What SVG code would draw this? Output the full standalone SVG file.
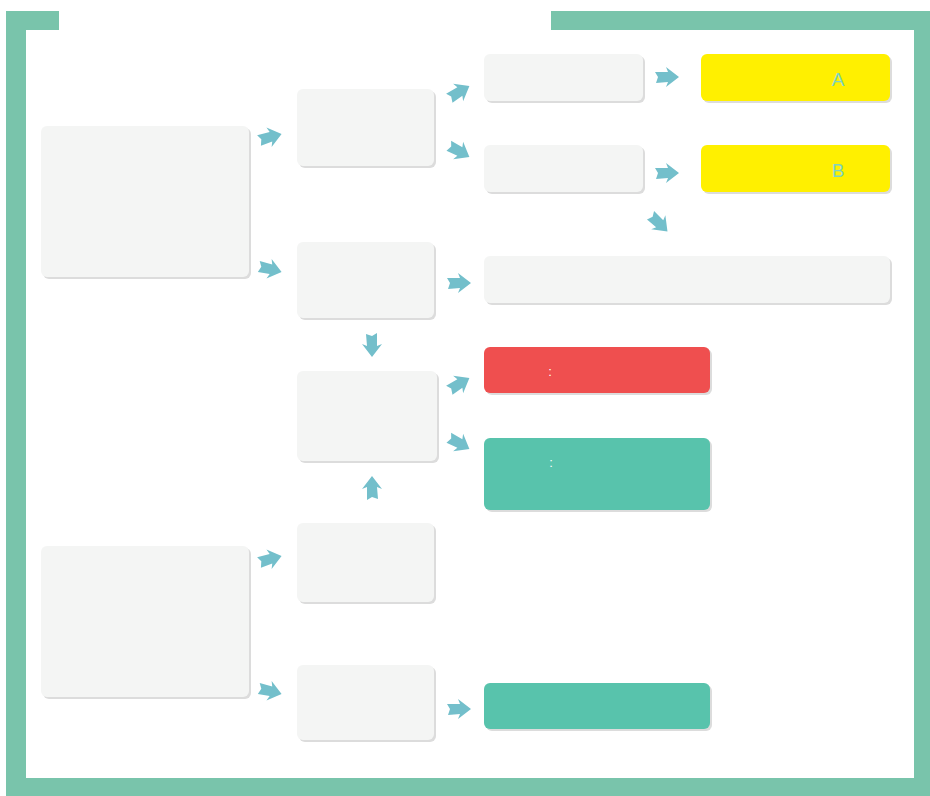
<svg xmlns="http://www.w3.org/2000/svg" width="930" height="796" viewBox="0 0 930 796">
<style>
.box{fill:#F4F5F4}
.sh{fill:#DCDCDC}
.yel{fill:#FFF000}
.red{fill:#EF4F4F}
.tea{fill:#58C3AC}
.arr{fill:#73BFCB}
.frame{fill:#79C4AB}
.lt{font-family:"Liberation Sans",Arial,sans-serif;font-size:19px;fill:#7ED3C0;text-anchor:middle}
.col{font-family:"Liberation Sans",Arial,sans-serif;font-size:13px;fill:#FFFFFF;text-anchor:middle}
</style>
<defs>
<path id="ar" d="M-12,-5 L1,-5 L-1,-10 L12,0 L-1,10 L1,5 L-11,6 L-9,0 Z"/>
</defs>
<rect width="930" height="796" fill="#FFFFFF"/>
<g id="frame">
<path class="frame" d="M6,11 H59 V30 H26 V778 H914 V30 H551 V11 H930 V796 H6 Z"/>
</g>
<g id="n-left1"><rect class="sh" x="43" y="128" width="208" height="151" rx="6"/><rect class="box" x="41" y="126" width="208" height="151" rx="6"/></g>
<g id="n-left2"><rect class="sh" x="43" y="548" width="208" height="151" rx="6"/><rect class="box" x="41" y="546" width="208" height="151" rx="6"/></g>
<g id="n-m1"><rect class="sh" x="299" y="91" width="137" height="77" rx="6"/><rect class="box" x="297" y="89" width="137" height="77" rx="6"/></g>
<g id="n-m2"><rect class="sh" x="299" y="244" width="137" height="76" rx="6"/><rect class="box" x="297" y="242" width="137" height="76" rx="6"/></g>
<g id="n-m3"><rect class="sh" x="299" y="373" width="140" height="90" rx="6"/><rect class="box" x="297" y="371" width="140" height="90" rx="6"/></g>
<g id="n-m4"><rect class="sh" x="299" y="525" width="137" height="79" rx="6"/><rect class="box" x="297" y="523" width="137" height="79" rx="6"/></g>
<g id="n-m5"><rect class="sh" x="299" y="667" width="137" height="75" rx="6"/><rect class="box" x="297" y="665" width="137" height="75" rx="6"/></g>
<g id="n-r1"><rect class="sh" x="486" y="56" width="159" height="47" rx="6"/><rect class="box" x="484" y="54" width="159" height="47" rx="6"/></g>
<g id="n-r2"><rect class="sh" x="486" y="147" width="159" height="47" rx="6"/><rect class="box" x="484" y="145" width="159" height="47" rx="6"/></g>
<g id="n-yA"><rect class="sh" x="703" y="56" width="189" height="47" rx="6"/><rect class="yel" x="701" y="54" width="189" height="47" rx="6"/><text class="lt" x="838" y="86">A</text></g>
<g id="n-yB"><rect class="sh" x="703" y="147" width="189" height="47" rx="6"/><rect class="yel" x="701" y="145" width="189" height="47" rx="6"/><text class="lt" x="838" y="177">B</text></g>
<g id="n-wide"><rect class="sh" x="486" y="258" width="406" height="47" rx="6"/><rect class="box" x="484" y="256" width="406" height="47" rx="6"/></g>
<g id="n-red"><rect class="sh" x="486" y="349" width="226" height="46" rx="6"/><rect class="red" x="484" y="347" width="226" height="46" rx="6"/><text class="col" x="550" y="376">:</text></g>
<g id="n-teal1"><rect class="sh" x="486" y="440" width="226" height="72" rx="6"/><rect class="tea" x="484" y="438" width="226" height="72" rx="6"/><text class="col" x="551" y="467">:</text></g>
<g id="n-teal2"><rect class="sh" x="486" y="685" width="226" height="46" rx="6"/><rect class="tea" x="484" y="683" width="226" height="46" rx="6"/></g>
<g id="connectors" class="arr">
<use href="#ar" transform="translate(270,137) rotate(-15)"/>
<use href="#ar" transform="translate(270,269) rotate(15)"/>
<use href="#ar" transform="translate(459,92) rotate(-30)"/>
<use href="#ar" transform="translate(459,151) rotate(30)"/>
<use href="#ar" transform="translate(667,77)"/>
<use href="#ar" transform="translate(667,173)"/>
<use href="#ar" transform="translate(659,223) rotate(45)"/>
<use href="#ar" transform="translate(459,283)"/>
<use href="#ar" transform="translate(372,345) rotate(90)"/>
<use href="#ar" transform="translate(459,384) rotate(-30)"/>
<use href="#ar" transform="translate(459,443) rotate(30)"/>
<use href="#ar" transform="translate(372,488) rotate(-90)"/>
<use href="#ar" transform="translate(270,559) rotate(-15)"/>
<use href="#ar" transform="translate(270,691) rotate(15)"/>
<use href="#ar" transform="translate(459,709)"/>
</g>
</svg>
